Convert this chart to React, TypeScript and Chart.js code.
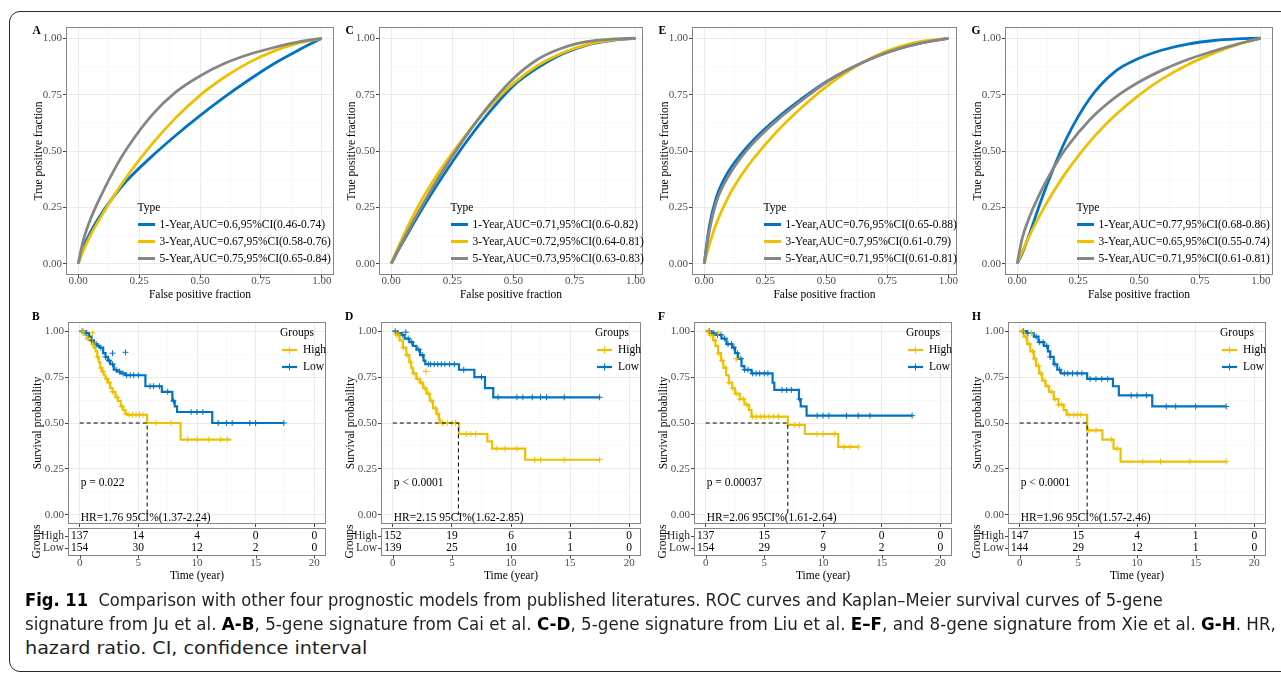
import React, { useEffect, useLayoutEffect, useRef } from 'react';
import { Chart, registerables } from 'chart.js';

Chart.register(...registerables);

const SERIF = '"Liberation Serif", "Times New Roman", Times, serif';
const BLUE = '#0073C2';
const YELLOW = '#EFC000';
const GREY = '#868686';

// ---------- ROC data ----------
const rocFpr = [0, 0.02, 0.05, 0.1, 0.15, 0.2, 0.3, 0.4, 0.5, 0.6, 0.7, 0.8, 0.9, 1];
const rocTicks = [0, 0.25, 0.5, 0.75, 1];
const rocTickLabels = ['0.00', '0.25', '0.50', '0.75', '1.00'];
const rocXTitle = 'False positive fraction';
const rocYTitle = 'True positive fraction';
const rocLegendTitle = 'Type';

const rocA_1y = [0, 0.07, 0.139, 0.229, 0.304, 0.369, 0.474, 0.569, 0.657, 0.739, 0.815, 0.885, 0.945, 1];
const rocA_3y = [0, 0.056, 0.125, 0.22, 0.307, 0.387, 0.527, 0.647, 0.747, 0.827, 0.892, 0.942, 0.977, 1];
const rocA_5y = [0, 0.1, 0.196, 0.316, 0.421, 0.511, 0.656, 0.761, 0.833, 0.888, 0.928, 0.958, 0.983, 1];
const rocA_labels = ['1-Year,AUC=0.6,95%CI(0.46-0.74)', '3-Year,AUC=0.67,95%CI(0.58-0.76)', '5-Year,AUC=0.75,95%CI(0.65-0.84)'];

const rocC_1y = [0, 0.042, 0.1, 0.195, 0.285, 0.37, 0.53, 0.67, 0.79, 0.87, 0.93, 0.97, 0.99, 1];
const rocC_3y = [0, 0.052, 0.124, 0.234, 0.329, 0.414, 0.564, 0.694, 0.8, 0.88, 0.935, 0.972, 0.992, 1];
const rocC_5y = [0, 0.044, 0.107, 0.207, 0.302, 0.392, 0.557, 0.702, 0.822, 0.907, 0.957, 0.985, 0.996, 1];
const rocC_labels = ['1-Year,AUC=0.71,95%CI(0.6-0.82)', '3-Year,AUC=0.72,95%CI(0.64-0.81)', '5-Year,AUC=0.73,95%CI(0.63-0.83)'];

const rocE_1y = [0, 0.16, 0.295, 0.41, 0.485, 0.547, 0.647, 0.732, 0.807, 0.867, 0.917, 0.955, 0.982, 1];
const rocE_3y = [0, 0.08, 0.179, 0.299, 0.389, 0.464, 0.589, 0.694, 0.786, 0.861, 0.921, 0.963, 0.988, 1];
const rocE_5y = [0, 0.14, 0.275, 0.39, 0.47, 0.535, 0.638, 0.725, 0.805, 0.867, 0.917, 0.955, 0.982, 1];
const rocE_labels = ['1-Year,AUC=0.76,95%CI(0.65-0.88)', '3-Year,AUC=0.7,95%CI(0.61-0.79)', '5-Year,AUC=0.71,95%CI(0.61-0.81)'];

const rocG_1y = [0, 0.044, 0.131, 0.286, 0.426, 0.551, 0.736, 0.851, 0.911, 0.949, 0.974, 0.989, 0.997, 1];
const rocG_3y = [0, 0.052, 0.124, 0.229, 0.321, 0.404, 0.544, 0.656, 0.748, 0.823, 0.883, 0.931, 0.971, 1];
const rocG_5y = [0, 0.11, 0.206, 0.326, 0.426, 0.511, 0.641, 0.736, 0.806, 0.861, 0.906, 0.941, 0.973, 1];
const rocG_labels = ['1-Year,AUC=0.77,95%CI(0.68-0.86)', '3-Year,AUC=0.65,95%CI(0.55-0.74)', '5-Year,AUC=0.71,95%CI(0.61-0.81)'];

// ---------- Kaplan-Meier data ----------
const timeTicks = [0, 5, 10, 15, 20];
const timeTickLabels = ['0', '5', '10', '15', '20'];
const survTicks = [0, 0.25, 0.5, 0.75, 1];
const survTickLabels = ['0.00', '0.25', '0.50', '0.75', '1.00'];
const kmYTitle = 'Survival probability';
const kmXTitle = 'Time (year)';
const kmLegendTitle = 'Groups';
const kmGroups = ['High', 'Low'];
const riskTitle = 'Groups';

const kmB_highT = [0, 0.35, 0.6, 0.85, 1.05, 1.2, 1.35, 1.5, 1.62, 1.75, 1.9, 2.05, 2.2, 2.4, 2.6, 2.8, 3.05, 3.25, 3.5, 3.7, 3.9, 4.05, 5.75, 8.6, 12.9];
const kmB_highS = [1, 0.98, 0.96, 0.95, 0.93, 0.91, 0.89, 0.86, 0.83, 0.8, 0.78, 0.76, 0.74, 0.72, 0.69, 0.67, 0.64, 0.62, 0.59, 0.57, 0.55, 0.545, 0.5, 0.41, 0.41];
const kmB_lowT = [0, 0.5, 0.8, 1.0, 1.2, 1.5, 1.7, 2.0, 2.2, 2.4, 2.6, 2.9, 3.2, 3.5, 3.9, 5.6, 7.0, 7.9, 8.1, 8.3, 11.3, 17.4];
const kmB_lowS = [1, 0.99, 0.97, 0.95, 0.93, 0.92, 0.91, 0.88, 0.86, 0.84, 0.82, 0.79, 0.78, 0.77, 0.76, 0.7, 0.67, 0.62, 0.59, 0.56, 0.5, 0.5];
const kmB_highCens = [0.3, 0.7, 1.1, 1.5, 1.8, 2.0, 2.3, 2.5, 2.8, 3.2, 3.6, 3.95, 4.2, 4.5, 4.8, 5.1, 5.4, 6.5, 7.8, 9.2, 10.0, 11.0, 12.0, 12.6];
const kmB_lowCens = [0.2, 0.6, 1.0, 1.4, 1.8, 2.2, 2.5, 2.8, 3.1, 3.4, 3.7, 4.0, 4.3, 4.6, 5.0, 6.0, 6.3, 6.8, 7.5, 8.0, 9.5, 10.0, 10.5, 11.8, 12.5, 13.0, 14.5, 15.0, 17.4];
const kmB_highExtra = [[1.1, 0.99]];
const kmB_lowExtra = [[2.8, 0.88], [3.9, 0.885]];
const kmB_median = 5.75;
const kmB_riskHigh = [137, 14, 4, 0, 0];
const kmB_riskLow = [154, 30, 12, 2, 0];
const kmB_p = 'p = 0.022';
const kmB_hr = 'HR=1.76 95CI%(1.37-2.24)';

const kmD_highT = [0, 0.3, 0.57, 0.85, 1.14, 1.4, 1.55, 1.7, 2.0, 2.3, 2.56, 2.85, 3.13, 3.4, 3.7, 3.9, 4.0, 5.6, 8.0, 8.4, 11.2, 17.5];
const kmD_highS = [1, 0.98, 0.95, 0.91, 0.87, 0.83, 0.8, 0.77, 0.74, 0.72, 0.69, 0.66, 0.62, 0.58, 0.55, 0.52, 0.5, 0.44, 0.4, 0.36, 0.3, 0.3];
const kmD_lowT = [0, 0.4, 0.7, 1.0, 1.4, 1.7, 2.0, 2.3, 2.6, 2.75, 5.6, 6.9, 7.8, 8.5, 17.5];
const kmD_lowS = [1, 0.99, 0.98, 0.96, 0.94, 0.92, 0.9, 0.87, 0.84, 0.82, 0.79, 0.75, 0.69, 0.64, 0.64];
const kmD_highCens = [0.3, 0.5, 0.9, 1.2, 1.5, 1.8, 2.1, 2.4, 2.7, 3.0, 3.3, 3.6, 3.8, 4.2, 4.6, 5.0, 5.3, 6.2, 6.6, 7.0, 8.8, 9.5, 10.5, 12.0, 12.5, 14.5, 17.5];
const kmD_lowCens = [0.2, 0.8, 1.3, 1.6, 2.2, 2.5, 3.0, 3.2, 3.5, 3.8, 4.1, 4.4, 4.8, 5.2, 6.0, 7.5, 8.9, 10.5, 11.0, 11.8, 12.5, 13.0, 14.5, 17.5];
const kmD_highExtra = [[2.8, 0.78]];
const kmD_lowExtra = [[1.1, 0.995]];
const kmD_median = 5.55;
const kmD_riskHigh = [152, 19, 6, 1, 0];
const kmD_riskLow = [139, 25, 10, 1, 0];
const kmD_p = 'p < 0.0001';
const kmD_hr = 'HR=2.15 95CI%(1.62-2.85)';

const kmF_highT = [0, 0.35, 0.63, 0.83, 1.05, 1.3, 1.5, 1.74, 1.97, 2.25, 2.5, 2.9, 3.3, 3.7, 3.9, 7.0, 8.45, 11.3, 13.0];
const kmF_highS = [1, 0.98, 0.95, 0.92, 0.88, 0.84, 0.8, 0.76, 0.72, 0.69, 0.66, 0.63, 0.6, 0.57, 0.535, 0.49, 0.44, 0.37, 0.37];
const kmF_lowT = [0, 0.5, 0.9, 1.35, 1.77, 2.25, 2.5, 2.75, 3.05, 3.3, 3.9, 5.7, 5.85, 7.95, 8.1, 8.6, 17.6];
const kmF_lowS = [1, 0.99, 0.98, 0.96, 0.93, 0.91, 0.88, 0.85, 0.81, 0.79, 0.77, 0.72, 0.68, 0.63, 0.59, 0.54, 0.54];
const kmF_highCens = [0.2, 0.4, 0.8, 1.1, 1.4, 1.7, 2.0, 2.3, 2.6, 2.9, 3.2, 3.5, 4.0, 4.3, 4.7, 5.0, 5.4, 5.8, 6.2, 7.6, 8.0, 9.5, 10.0, 11.0, 11.8, 12.3, 13.0];
const kmF_lowCens = [0.3, 0.7, 1.0, 1.3, 1.6, 1.9, 2.2, 2.4, 2.7, 3.0, 3.3, 3.6, 4.0, 4.3, 4.6, 5.0, 5.3, 6.5, 6.9, 7.3, 8.0, 9.5, 10.0, 10.5, 12.0, 13.0, 14.0, 17.6];
const kmF_highExtra = [[1.05, 0.99], [2.6, 0.85]];
const kmF_lowExtra: number[][] = [];
const kmF_median = 7.0;
const kmF_riskHigh = [137, 15, 7, 0, 0];
const kmF_riskLow = [154, 29, 9, 2, 0];
const kmF_p = 'p = 0.00037';
const kmF_hr = 'HR=2.06 95CI%(1.61-2.64)';

const kmH_highT = [0, 0.34, 0.63, 0.9, 1.2, 1.4, 1.65, 1.9, 2.2, 2.5, 2.9, 3.3, 3.75, 4.0, 5.75, 7.05, 8.0, 8.6, 17.6];
const kmH_highS = [1, 0.97, 0.93, 0.89, 0.85, 0.81, 0.77, 0.73, 0.7, 0.67, 0.63, 0.6, 0.57, 0.545, 0.46, 0.41, 0.36, 0.29, 0.29];
const kmH_lowT = [0, 0.6, 1.2, 1.6, 2.05, 2.4, 2.6, 2.9, 3.2, 3.5, 5.75, 7.95, 8.45, 11.3, 17.6];
const kmH_lowS = [1, 0.99, 0.97, 0.94, 0.92, 0.89, 0.86, 0.82, 0.79, 0.77, 0.74, 0.7, 0.65, 0.59, 0.59];
const kmH_highCens = [0.2, 0.5, 0.8, 1.1, 1.3, 1.6, 1.8, 2.1, 2.4, 2.7, 3.0, 3.3, 3.6, 4.2, 4.6, 4.9, 5.2, 5.9, 6.5, 7.8, 8.3, 10.5, 12.0, 14.5, 17.6];
const kmH_lowCens = [0.3, 0.7, 1.0, 1.4, 1.7, 2.0, 2.3, 2.6, 3.0, 3.4, 3.8, 4.1, 4.5, 4.9, 5.3, 6.0, 6.5, 7.0, 7.5, 9.5, 10.0, 10.8, 12.5, 13.3, 15.0, 17.6];
const kmH_highExtra = [[1.0, 0.99]];
const kmH_lowExtra: number[][] = [];
const kmH_median = 5.75;
const kmH_riskHigh = [147, 15, 4, 1, 0];
const kmH_riskLow = [144, 29, 12, 1, 0];
const kmH_p = 'p < 0.0001';
const kmH_hr = 'HR=1.96 95CI%(1.57-2.46)';

// ---------- caption ----------
const captionLine1 = ['Fig. 11', '  Comparison with other four prognostic models from published literatures. ROC curves and Kaplan–Meier survival curves of 5-gene'];
const captionLine2 = ['signature from Ju et al. ', 'A-B', ', 5-gene signature from Cai et al. ', 'C-D', ', 5-gene signature from Liu et al. ', 'E–F', ', and 8-gene signature from Xie et al. ', 'G-H', '. HR,'];
const captionLine3 = ['hazard ratio. CI, confidence interval'];

// ---------- layout ----------
const rocPanels = [
  { letter: 'A', plot: { l: 65.5, t: 26.5, r: 333.5, b: 274.5 }, xMax: 1.05, series: [rocA_1y, rocA_3y, rocA_5y], labels: rocA_labels },
  { letter: 'C', plot: { l: 378.5, t: 26.5, r: 642, b: 274.5 }, xMax: 1.03, series: [rocC_1y, rocC_3y, rocC_5y], labels: rocC_labels },
  { letter: 'E', plot: { l: 692, t: 26.5, r: 956.5, b: 274.5 }, xMax: 1.035, series: [rocE_1y, rocE_3y, rocE_5y], labels: rocE_labels },
  { letter: 'G', plot: { l: 1005, t: 26.5, r: 1273, b: 274.5 }, xMax: 1.05, series: [rocG_1y, rocG_3y, rocG_5y], labels: rocG_labels },
];

const kmPanels = [
  { letter: 'B', plot: { l: 68, t: 322, r: 325.5, b: 523.5 }, highT: kmB_highT, highS: kmB_highS, lowT: kmB_lowT, lowS: kmB_lowS, highCens: kmB_highCens, lowCens: kmB_lowCens, highExtra: kmB_highExtra, lowExtra: kmB_lowExtra, median: kmB_median, riskHigh: kmB_riskHigh, riskLow: kmB_riskLow, p: kmB_p, hr: kmB_hr },
  { letter: 'D', plot: { l: 380.5, t: 322, r: 640, b: 523.5 }, highT: kmD_highT, highS: kmD_highS, lowT: kmD_lowT, lowS: kmD_lowS, highCens: kmD_highCens, lowCens: kmD_lowCens, highExtra: kmD_highExtra, lowExtra: kmD_lowExtra, median: kmD_median, riskHigh: kmD_riskHigh, riskLow: kmD_riskLow, p: kmD_p, hr: kmD_hr },
  { letter: 'F', plot: { l: 694.3, t: 322, r: 952.5, b: 523.5 }, highT: kmF_highT, highS: kmF_highS, lowT: kmF_lowT, lowS: kmF_lowS, highCens: kmF_highCens, lowCens: kmF_lowCens, highExtra: kmF_highExtra, lowExtra: kmF_lowExtra, median: kmF_median, riskHigh: kmF_riskHigh, riskLow: kmF_riskLow, p: kmF_p, hr: kmF_hr },
  { letter: 'H', plot: { l: 1008, t: 322, r: 1266, b: 523.5 }, highT: kmH_highT, highS: kmH_highS, lowT: kmH_lowT, lowS: kmH_lowS, highCens: kmH_highCens, lowCens: kmH_lowCens, highExtra: kmH_highExtra, lowExtra: kmH_lowExtra, median: kmH_median, riskHigh: kmH_riskHigh, riskLow: kmH_riskLow, p: kmH_p, hr: kmH_hr },
];

const font = (size: number, bold = false) => `${bold ? 'bold ' : ''}${size}px ${SERIF}`;

function axis(
  which: 'x' | 'y', min: number, max: number, majors: number[], labels: string[],
  title: string, size: number, titlePad: number, tickPad: number, showLabels = true,
) {
  const all: number[] = [];
  majors.forEach((v, i) => {
    all.push(v);
    if (i < majors.length - 1) all.push((v + majors[i + 1]) / 2);
  });
  const isMajor = (v: number) => majors.some((m) => Math.abs(m - v) < 1e-9);
  return {
    type: 'linear',
    min, max,
    afterBuildTicks: (s: any) => { s.ticks = all.map((v) => ({ value: v })); },
    afterFit: (s: any) => { if (which === 'x') s.height = size; else s.width = size; },
    ticks: {
      display: showLabels, autoSkip: false, maxRotation: 0, minRotation: 0,
      color: '#4D4D4D', font: { family: SERIF, size: 11, lineHeight: 1.2 }, padding: tickPad,
      callback: (v: number) => { const i = majors.findIndex((m) => Math.abs(m - v) < 1e-9); return i >= 0 ? labels[i] : ''; },
    },
    grid: {
      color: (c: any) => (c.tick && isMajor(c.tick.value) ? '#EBEBEB' : '#F6F6F6'),
      lineWidth: (c: any) => (c.tick && isMajor(c.tick.value) ? 1 : 0.7),
      tickColor: (c: any) => (c.tick && isMajor(c.tick.value) ? '#444444' : 'rgba(0,0,0,0)'),
      tickLength: 3, drawTicks: true,
    },
    border: { display: false },
    title: {
      display: !!title, text: title, color: '#000', font: { family: SERIF, size: 11.5, lineHeight: 1.2 },
      padding: which === 'y' ? { top: titlePad, bottom: 0 } : { top: 0, bottom: titlePad },
    },
  };
}

function drawBorder(ctx: CanvasRenderingContext2D, l: number, t: number, r: number, b: number) {
  ctx.strokeStyle = '#858585';
  ctx.lineWidth = 1;
  const L = Math.round(l) + 0.5, T = Math.round(t) + 0.5, R = Math.round(r) - 0.5, B = Math.round(b) - 0.5;
  ctx.strokeRect(L, T, R - L, B - T);
}

const ROC_PL = 50, ROC_PT = 20, ROC_XH = 30, ROC_PB = 2, ROC_PR = 12;

function rocConfig(p: typeof rocPanels[number]) {
  const colors = [BLUE, YELLOW, GREY];
  const deco = {
    id: 'rocDeco',
    afterDraw(chart: any) {
      const { ctx, chartArea: a } = chart;
      ctx.save();
      drawBorder(ctx, a.left, a.top, a.right, a.bottom);
      ctx.textBaseline = 'middle';
      ctx.textAlign = 'left';
      ctx.fillStyle = '#000';
      ctx.font = font(11.5);
      ctx.fillText(rocLegendTitle, a.left + 71.5, a.top + 180.5);
      p.labels.forEach((lab, i) => {
        const y = a.top + 197.5 + i * 17;
        ctx.strokeStyle = colors[i];
        ctx.lineWidth = 3;
        ctx.beginPath();
        ctx.moveTo(a.left + 72, y);
        ctx.lineTo(a.left + 89, y);
        ctx.stroke();
        ctx.fillStyle = '#000';
        ctx.fillText(lab, a.left + 93.5, y);
      });
      ctx.font = font(11.5, true);
      ctx.fillText(p.letter, a.left - 33.5, a.top + 4.5);
      ctx.restore();
    },
  };
  return {
    type: 'line',
    data: {
      datasets: p.series.map((tpr, i) => ({
        label: p.labels[i],
        data: rocFpr.map((f, j) => ({ x: f, y: tpr[j] })),
        borderColor: colors[i],
        borderWidth: 2.8,
        pointRadius: 0,
        cubicInterpolationMode: 'monotone',
        fill: false,
        order: 3 - i,
      })),
    },
    options: {
      responsive: false, animation: false, devicePixelRatio: 1, events: [],
      layout: { padding: { left: 0, right: ROC_PR, top: ROC_PT, bottom: ROC_PB } },
      plugins: { legend: { display: false }, tooltip: { enabled: false } },
      scales: {
        x: axis('x', -0.05, p.xMax, rocTicks, rocTickLabels, rocXTitle, ROC_XH, 3.6, -3),
        y: axis('y', -0.05, 1.05, rocTicks, rocTickLabels, rocYTitle, ROC_PL, 15.6, 1),
      },
    },
    plugins: [deco],
  };
}

const KM_PL = 50, KM_PT = 15, KM_PR = 14, KM_PB = 68;

function survAt(T: number[], S: number[], t: number) {
  let s = S[0];
  for (let i = 0; i < T.length; i++) if (T[i] <= t) s = S[i];
  return s;
}

function kmConfig(p: typeof kmPanels[number]) {
  const deco = {
    id: 'kmDeco',
    afterDraw(chart: any) {
      const { ctx, chartArea: a } = chart;
      const xs = chart.scales.x;
      ctx.save();
      drawBorder(ctx, a.left, a.top, a.right, a.bottom);
      ctx.textBaseline = 'middle';
      ctx.font = font(11.5);
      ctx.fillStyle = '#000';
      ctx.textAlign = 'left';
      ctx.fillText(kmLegendTitle, a.right - 46, a.top + 11);
      [YELLOW, BLUE].forEach((col, i) => {
        const y = a.top + 28 + i * 17;
        const cx = a.right - 36.5;
        ctx.strokeStyle = col;
        ctx.lineWidth = 2.2;
        ctx.beginPath();
        ctx.moveTo(a.right - 44, y);
        ctx.lineTo(a.right - 29, y);
        ctx.stroke();
        ctx.lineWidth = 1;
        ctx.beginPath();
        ctx.moveTo(cx, y - 3.5);
        ctx.lineTo(cx, y + 3.5);
        ctx.stroke();
        ctx.fillStyle = '#000';
        ctx.fillText(kmGroups[i], a.right - 23, y);
      });
      const x0 = xs.getPixelForValue(0);
      ctx.fillText(p.p, x0 + 1, a.bottom - 41.5);
      ctx.fillText(p.hr, x0 + 1, a.bottom - 6.5);
      ctx.font = font(11.5, true);
      ctx.fillText(p.letter, a.left - 36, a.top - 5);
      // risk table
      const tt = a.bottom + 3.5, tb = a.bottom + 31.5;
      drawBorder(ctx, a.left, tt, a.right, tb);
      const rows = [p.riskHigh, p.riskLow];
      ctx.font = font(11.5);
      rows.forEach((vals, r) => {
        const y = tt + 8 + r * 12;
        ctx.textAlign = 'right';
        ctx.fillStyle = '#333';
        ctx.fillText(kmGroups[r], a.left - 4, y);
        ctx.strokeStyle = '#444';
        ctx.lineWidth = 1;
        ctx.beginPath();
        ctx.moveTo(a.left - 3, Math.round(y) + 0.5);
        ctx.lineTo(a.left, Math.round(y) + 0.5);
        ctx.stroke();
        ctx.textAlign = 'center';
        ctx.fillStyle = '#000';
        vals.forEach((v, i) => ctx.fillText(String(v), xs.getPixelForValue(timeTicks[i]), y));
      });
      ctx.font = font(11);
      ctx.fillStyle = '#4D4D4D';
      timeTicks.forEach((t, i) => {
        const x = Math.round(xs.getPixelForValue(t)) + 0.5;
        ctx.strokeStyle = '#444';
        ctx.beginPath();
        ctx.moveTo(x, tb);
        ctx.lineTo(x, tb + 3);
        ctx.stroke();
        ctx.fillText(timeTickLabels[i], xs.getPixelForValue(t), tb + 8);
      });
      ctx.fillStyle = '#000';
      ctx.font = font(11.5);
      ctx.fillText(kmXTitle, (a.left + a.right) / 2, a.bottom + 51.5);
      ctx.translate(a.left - 31, (tt + tb) / 2);
      ctx.rotate(-Math.PI / 2);
      ctx.textAlign = 'center';
      ctx.fillText(riskTitle, 0, 0);
      ctx.restore();
    },
  };
  const pts = (T: number[], S: number[]) => T.map((t, i) => ({ x: t, y: S[i] }));
  const cens = (T: number[], S: number[], C: number[], extra: number[][]) =>
    C.map((t) => ({ x: t, y: survAt(T, S, t) })).concat(extra.map(([x, y]) => ({ x, y })));
  const censStyle = (col: string) => ({
    showLine: false, pointStyle: 'cross', pointRadius: 3, pointBorderWidth: 1,
    pointBorderColor: col, pointBackgroundColor: col, borderColor: col, order: 1,
  });
  return {
    type: 'line',
    data: {
      datasets: [
        { label: kmGroups[0], data: pts(p.highT, p.highS), borderColor: YELLOW, borderWidth: 2.2, stepped: 'before', pointRadius: 0, order: 2 },
        { label: kmGroups[1], data: pts(p.lowT, p.lowS), borderColor: BLUE, borderWidth: 2.2, stepped: 'before', pointRadius: 0, order: 2 },
        { label: 'High censored', data: cens(p.highT, p.highS, p.highCens, p.highExtra), ...censStyle(YELLOW) },
        { label: 'Low censored', data: cens(p.lowT, p.lowS, p.lowCens, p.lowExtra), ...censStyle(BLUE) },
        {
          label: 'median', data: [{ x: 0, y: 0.5 }, { x: p.median, y: 0.5 }, { x: p.median, y: 0 }],
          borderColor: '#000', borderWidth: 1, borderDash: [4, 3], pointRadius: 0, order: 0,
        },
      ],
    },
    options: {
      responsive: false, animation: false, devicePixelRatio: 1, events: [],
      layout: { padding: { left: 0, right: KM_PR, top: KM_PT, bottom: KM_PB } },
      plugins: { legend: { display: false }, tooltip: { enabled: false } },
      scales: {
        x: axis('x', -1, 21, timeTicks, timeTickLabels, '', 0, 0, 0, false),
        y: axis('y', -0.05, 1.05, survTicks, survTickLabels, kmYTitle, KM_PL, 13.1, 1),
      },
    },
    plugins: [deco],
  };
}

function ChartCanvas({ left, top, width, height, build }: { left: number; top: number; width: number; height: number; build: () => any }) {
  const ref = useRef<HTMLCanvasElement>(null);
  useEffect(() => {
    const c = new Chart(ref.current as HTMLCanvasElement, build());
    return () => c.destroy();
  }, []);
  return (
    <canvas
      ref={ref}
      width={width}
      height={height}
      style={{ position: 'absolute', left, top, width, height }}
    />
  );
}

const CAPTION_FONT = '"Liberation Sans Narrow", "DejaVu Sans Condensed", "Open Sans", "Noto Sans", sans-serif';

export default function App() {
  const capRefs = useRef<(HTMLSpanElement | null)[]>([]);
  const capTargets = [1138, 1251, 343];
  useLayoutEffect(() => {
    const fit = () => {
      capRefs.current.forEach((el, i) => {
        if (!el) return;
        el.style.transform = 'none';
        const w = el.offsetWidth;
        if (w > 0) el.style.transform = `scaleX(${capTargets[i] / w})`;
      });
    };
    fit();
    if ((document as any).fonts && (document as any).fonts.ready) (document as any).fonts.ready.then(fit);
  }, []);

  const capStyle = (top: number): React.CSSProperties => ({
    position: 'absolute', left: 25, top, height: 24, lineHeight: '24px', whiteSpace: 'pre',
    display: 'inline-block', transformOrigin: 'left center', fontFamily: CAPTION_FONT,
    fontSize: 17.5, color: '#231F20', fontStretch: 'condensed',
  });

  return (
    <div style={{ position: 'fixed', left: 0, top: 0, width: 1281, height: 674, overflow: 'hidden', background: '#fff' }}>
      <div style={{ position: 'absolute', left: 9, top: 11, width: 1300, height: 661, border: '1.5px solid #2a2a2a', borderRadius: 11, boxSizing: 'border-box' }} />
      {rocPanels.map((p) => (
        <ChartCanvas
          key={p.letter}
          left={p.plot.l - ROC_PL}
          top={p.plot.t - ROC_PT}
          width={Math.round(ROC_PL + (p.plot.r - p.plot.l) + ROC_PR)}
          height={Math.round(ROC_PT + (p.plot.b - p.plot.t) + ROC_XH + ROC_PB)}
          build={() => rocConfig(p)}
        />
      ))}
      {kmPanels.map((p) => (
        <ChartCanvas
          key={p.letter}
          left={p.plot.l - KM_PL}
          top={p.plot.t - KM_PT}
          width={Math.round(KM_PL + (p.plot.r - p.plot.l) + KM_PR)}
          height={Math.round(KM_PT + (p.plot.b - p.plot.t) + KM_PB)}
          build={() => kmConfig(p)}
        />
      ))}
      <span ref={(el) => { capRefs.current[0] = el; }} style={capStyle(588)}>
        <b style={{ color: '#000' }}>{captionLine1[0]}</b>{captionLine1[1]}
      </span>
      <span ref={(el) => { capRefs.current[1] = el; }} style={capStyle(612)}>
        {captionLine2.map((s, i) => (i % 2 === 1 ? <b key={i} style={{ color: '#000' }}>{s}</b> : <React.Fragment key={i}>{s}</React.Fragment>))}
      </span>
      <span ref={(el) => { capRefs.current[2] = el; }} style={capStyle(636)}>
        {captionLine3[0]}
      </span>
    </div>
  );
}
